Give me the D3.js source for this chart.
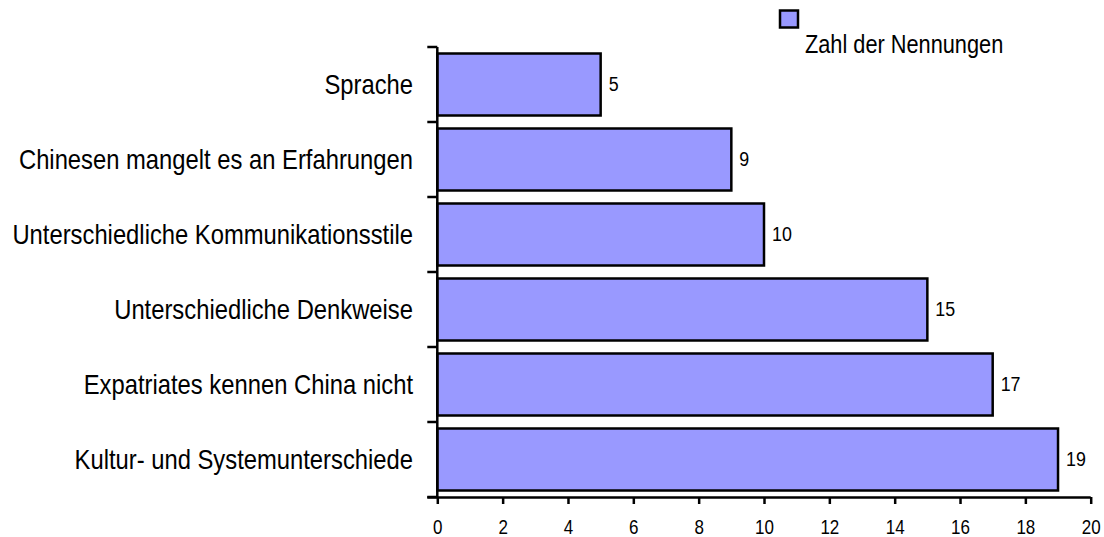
<!DOCTYPE html>
<html>
<head>
<meta charset="utf-8">
<script src="https://cdn.jsdelivr.net/npm/d3@7"></script>
<style>
  html, body { margin: 0; padding: 0; background: #fff; }
  svg text { font-family: "Liberation Sans Narrow", "Arial Narrow", "Liberation Sans", Arial, sans-serif; fill: #000; }
</style>
</head>
<body>
<svg id="chart" width="1104" height="537"></svg>
<script>
// Reasons named, number of mentions
const categories = [
  "Sprache",
  "Chinesen mangelt es an Erfahrungen",
  "Unterschiedliche Kommunikationsstile",
  "Unterschiedliche Denkweise",
  "Expatriates kennen China nicht",
  "Kultur- und Systemunterschiede"
];
const mentions = [5, 9, 10, 15, 17, 19];
const xTicks = [0, 2, 4, 6, 8, 10, 12, 14, 16, 18, 20];
const seriesName = "Zahl der Nennungen";

const svg = d3.select("#chart");
const barFill = "#9999ff";
const condense = 0.85; // narrow face: squeeze glyphs horizontally

const x = d3.scaleLinear().domain([0, 20]).range([437.3, 1090.7]);
const y = d3.scaleBand().domain(categories).range([47, 497])
  .paddingInner(0.1733).paddingOuter(0.0867);

const data = categories.map((c, i) => ({ cat: c, val: mentions[i] }));

// Bars
svg.append("g").selectAll("rect").data(data).join("rect")
  .attr("x", x(0))
  .attr("y", d => y(d.cat))
  .attr("width", d => x(d.val) - x(0))
  .attr("height", y.bandwidth())
  .attr("fill", barFill)
  .attr("stroke", "#000")
  .attr("stroke-width", 2.5);

// Value labels
svg.append("g").selectAll("text").data(data).join("text")
  .attr("transform", d => `translate(${x(d.val) + 8},${y(d.cat) + y.bandwidth() / 2}) scale(${condense},1)`)
  .attr("dy", "0.3em")
  .attr("font-size", 21)
  .text(d => d.val);

// Y axis: vertical line with tick marks at band boundaries
const yAxisG = svg.append("g");
yAxisG.append("line")
  .attr("x1", x(0)).attr("x2", x(0))
  .attr("y1", 47).attr("y2", 497)
  .attr("stroke", "#000").attr("stroke-width", 2.5);
const boundaries = d3.range(categories.length + 1).map(i => 47 + i * y.step());
yAxisG.selectAll("line.tick").data(boundaries).join("line")
  .attr("class", "tick")
  .attr("x1", x(0) - 10).attr("x2", x(0))
  .attr("y1", d => d).attr("y2", d => d)
  .attr("stroke", "#000").attr("stroke-width", 2.5);

// Category labels
yAxisG.selectAll("text").data(categories).join("text")
  .attr("transform", d => `translate(413,${y(d) + y.bandwidth() / 2}) scale(${condense},1)`)
  .attr("dy", "0.35em")
  .attr("text-anchor", "end")
  .attr("font-size", 28)
  .text(d => d);

// X axis
const xAxis = d3.axisBottom(x).tickValues(xTicks).tickSize(7).tickSizeOuter(0).tickFormat("");
const xAxisG = svg.append("g").attr("transform", "translate(0,497)").call(xAxis);
xAxisG.select(".domain").attr("stroke-width", 2.5).attr("d", `M${x(0) - 10},0.5H${x(20)}`);
xAxisG.selectAll(".tick line").attr("stroke-width", 2.5);
xAxisG.selectAll(".tick").append("text")
  .attr("transform", `translate(0,37) scale(${condense},1)`)
  .attr("text-anchor", "middle")
  .attr("font-size", 20)
  .attr("fill", "#000")
  .text(d => d);

// Legend
const legend = svg.append("g");
legend.append("rect")
  .attr("x", 780).attr("y", 10.5).attr("width", 18).attr("height", 17)
  .attr("fill", barFill).attr("stroke", "#000").attr("stroke-width", 2.5);
legend.append("text")
  .attr("transform", "translate(805,53) scale(0.87,1)")
  .attr("font-size", 25)
  .text(seriesName);
</script>
</body>
</html>
